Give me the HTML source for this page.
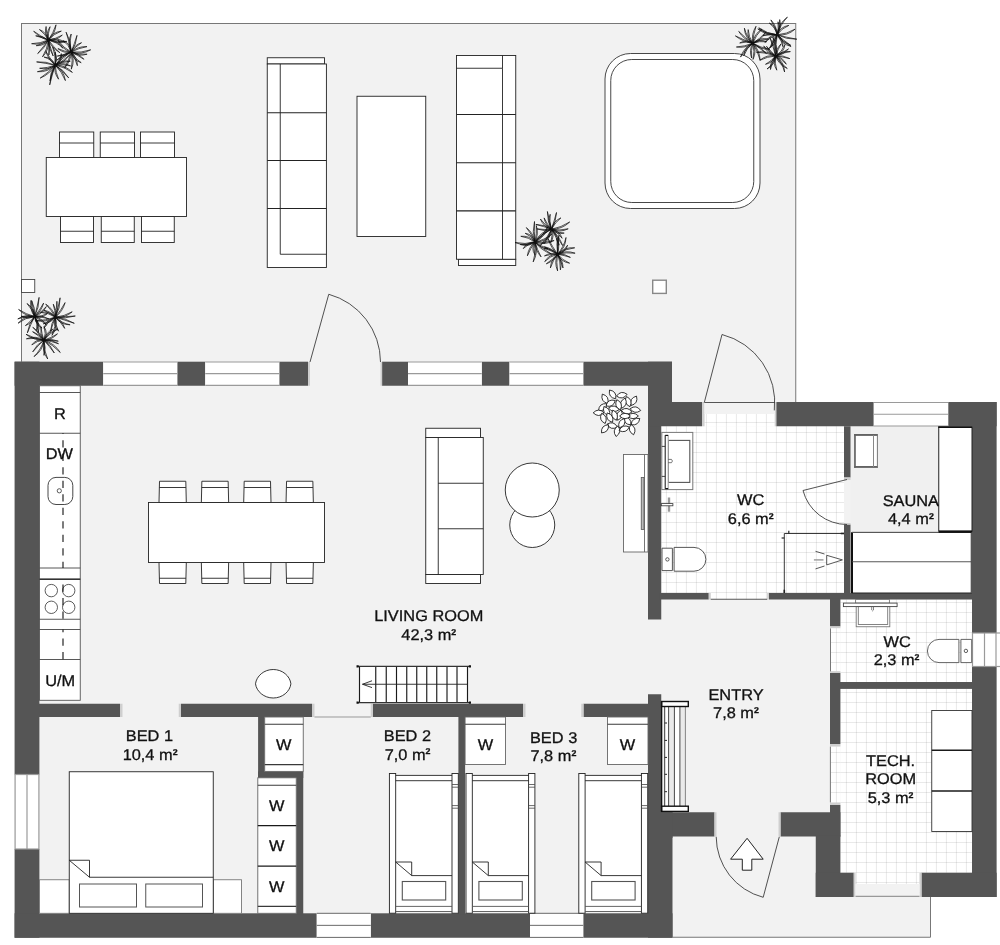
<!DOCTYPE html>
<html><head><meta charset="utf-8"><title>Floor plan</title>
<style>
html,body{margin:0;padding:0;background:#fff;}
body{width:1000px;height:945px;overflow:hidden;font-family:"Liberation Sans",sans-serif;}
svg{display:block;}
</style></head><body>
<svg width="1000" height="945" viewBox="0 0 1000 945">
<rect width="1000" height="945" fill="#fff"/>
<rect x="21.50" y="23.50" width="774.25" height="386.50" fill="#f2f2f2" stroke="#777" stroke-width="1" />
<path d="M14.6,361.7 H672 V402 H996.6 V897 H815.75 V836.5 H672.5 V937.75 H14.6 Z" fill="#f2f2f2" stroke="none" stroke-width="1" />
<path d="M672.5,835 H815.75 V896 H930.5 V937.25 H672.5 Z" fill="#f2f2f2" stroke="none" stroke-width="1" />
<path d="M930.5,897 V937.25 H672.5" fill="none" stroke="#777" stroke-width="1" />
<defs><pattern id="tile" x="5.9" y="2.0" width="10" height="10" patternUnits="userSpaceOnUse"><rect width="10" height="10" fill="#fff"/><rect width="1" height="10" fill="#000" fill-opacity="0.085"/><rect width="10" height="1" fill="#000" fill-opacity="0.085"/></pattern></defs>
<rect x="661.25" y="426.25" width="182.75" height="166.75" fill="url(#tile)" stroke="none" stroke-width="1" />
<rect x="704.50" y="402.00" width="70.25" height="24.25" fill="url(#tile)" stroke="none" stroke-width="1" />
<rect x="710.70" y="593.00" width="56.50" height="6.50" fill="url(#tile)" stroke="none" stroke-width="1" />
<rect x="840.40" y="599.50" width="131.60" height="82.50" fill="url(#tile)" stroke="none" stroke-width="1" />
<rect x="830.00" y="628.00" width="10.40" height="43.50" fill="url(#tile)" stroke="none" stroke-width="1" />
<rect x="840.40" y="688.90" width="131.60" height="183.85" fill="url(#tile)" stroke="none" stroke-width="1" />
<rect x="830.00" y="746.50" width="10.40" height="56.25" fill="url(#tile)" stroke="none" stroke-width="1" />
<rect x="855.50" y="872.75" width="64.00" height="24.25" fill="url(#tile)" stroke="none" stroke-width="1" />
<rect x="850.50" y="426.25" width="121.50" height="166.75" fill="#f0f0f0" stroke="none" stroke-width="1" />
<rect x="14.60" y="361.70" width="88.65" height="24.05" fill="#555555" stroke="none" stroke-width="1" />
<rect x="177.25" y="361.70" width="28.00" height="24.05" fill="#555555" stroke="none" stroke-width="1" />
<rect x="279.25" y="361.70" width="28.75" height="24.05" fill="#555555" stroke="none" stroke-width="1" />
<rect x="382.00" y="361.70" width="26.00" height="24.05" fill="#555555" stroke="none" stroke-width="1" />
<rect x="481.75" y="361.70" width="27.75" height="24.05" fill="#555555" stroke="none" stroke-width="1" />
<rect x="583.25" y="361.70" width="88.75" height="24.05" fill="#555555" stroke="none" stroke-width="1" />
<rect x="14.60" y="361.70" width="24.80" height="412.80" fill="#555555" stroke="none" stroke-width="1" />
<rect x="14.60" y="849.00" width="24.80" height="88.75" fill="#555555" stroke="none" stroke-width="1" />
<rect x="14.60" y="913.30" width="302.15" height="24.45" fill="#555555" stroke="none" stroke-width="1" />
<rect x="370.75" y="913.30" width="159.25" height="24.45" fill="#555555" stroke="none" stroke-width="1" />
<rect x="583.25" y="913.30" width="89.25" height="24.45" fill="#555555" stroke="none" stroke-width="1" />
<rect x="648.00" y="361.70" width="24.00" height="40.30" fill="#555555" stroke="none" stroke-width="1" />
<rect x="648.00" y="402.00" width="13.25" height="217.50" fill="#555555" stroke="none" stroke-width="1" />
<rect x="648.00" y="694.25" width="13.25" height="119.25" fill="#555555" stroke="none" stroke-width="1" />
<rect x="648.00" y="812.25" width="24.50" height="125.50" fill="#555555" stroke="none" stroke-width="1" />
<rect x="648.00" y="402.00" width="54.00" height="24.25" fill="#555555" stroke="none" stroke-width="1" />
<rect x="776.25" y="402.00" width="97.50" height="24.25" fill="#555555" stroke="none" stroke-width="1" />
<rect x="948.25" y="402.00" width="48.35" height="24.25" fill="#555555" stroke="none" stroke-width="1" />
<rect x="972.00" y="402.00" width="24.60" height="231.00" fill="#555555" stroke="none" stroke-width="1" />
<rect x="972.00" y="666.25" width="24.60" height="230.75" fill="#555555" stroke="none" stroke-width="1" />
<rect x="844.00" y="426.25" width="6.50" height="51.25" fill="#555555" stroke="none" stroke-width="1" />
<rect x="844.00" y="524.50" width="6.50" height="68.50" fill="#555555" stroke="none" stroke-width="1" />
<rect x="659.50" y="593.00" width="49.25" height="6.50" fill="#555555" stroke="none" stroke-width="1" />
<rect x="769.00" y="593.00" width="203.00" height="6.50" fill="#555555" stroke="none" stroke-width="1" />
<rect x="830.00" y="598.50" width="10.40" height="27.90" fill="#555555" stroke="none" stroke-width="1" />
<rect x="830.00" y="673.00" width="10.40" height="71.00" fill="#555555" stroke="none" stroke-width="1" />
<rect x="830.00" y="805.00" width="10.40" height="31.50" fill="#555555" stroke="none" stroke-width="1" />
<rect x="840.00" y="682.00" width="132.00" height="6.90" fill="#555555" stroke="none" stroke-width="1" />
<rect x="648.00" y="812.25" width="66.50" height="24.25" fill="#555555" stroke="none" stroke-width="1" />
<rect x="780.50" y="812.25" width="59.90" height="24.25" fill="#555555" stroke="none" stroke-width="1" />
<rect x="648.00" y="812.25" width="24.50" height="25.75" fill="#555555" stroke="none" stroke-width="1" />
<rect x="815.75" y="835.50" width="24.65" height="61.50" fill="#555555" stroke="none" stroke-width="1" />
<rect x="815.75" y="872.75" width="38.00" height="24.25" fill="#555555" stroke="none" stroke-width="1" />
<rect x="921.50" y="872.75" width="75.10" height="24.25" fill="#555555" stroke="none" stroke-width="1" />
<rect x="38.00" y="703.75" width="82.00" height="13.25" fill="#555555" stroke="none" stroke-width="1" />
<rect x="181.00" y="703.75" width="131.00" height="13.25" fill="#555555" stroke="none" stroke-width="1" />
<rect x="373.00" y="703.75" width="150.00" height="13.25" fill="#555555" stroke="none" stroke-width="1" />
<rect x="583.50" y="703.75" width="65.50" height="13.25" fill="#555555" stroke="none" stroke-width="1" />
<rect x="258.10" y="716.00" width="6.60" height="62.00" fill="#555555" stroke="none" stroke-width="1" />
<rect x="258.10" y="771.40" width="45.15" height="6.60" fill="#555555" stroke="none" stroke-width="1" />
<rect x="296.25" y="771.40" width="7.00" height="143.10" fill="#555555" stroke="none" stroke-width="1" />
<rect x="458.40" y="716.00" width="6.70" height="198.50" fill="#555555" stroke="none" stroke-width="1" />
<rect x="308.00" y="362.00" width="2.00" height="23.75" fill="#cfcfcf" stroke="none" stroke-width="1" />
<rect x="380.50" y="362.00" width="1.70" height="23.75" fill="#cfcfcf" stroke="none" stroke-width="1" />
<rect x="702.00" y="402.00" width="2.50" height="24.25" fill="#cfcfcf" stroke="none" stroke-width="1" />
<rect x="774.75" y="402.00" width="1.50" height="24.25" fill="#cfcfcf" stroke="none" stroke-width="1" />
<rect x="844.00" y="477.50" width="6.50" height="2.50" fill="#cfcfcf" stroke="none" stroke-width="1" />
<rect x="844.00" y="523.00" width="6.50" height="1.50" fill="#cfcfcf" stroke="none" stroke-width="1" />
<rect x="708.75" y="593.00" width="1.95" height="6.50" fill="#cfcfcf" stroke="none" stroke-width="1" />
<rect x="767.20" y="593.00" width="1.80" height="6.50" fill="#cfcfcf" stroke="none" stroke-width="1" />
<rect x="830.00" y="626.40" width="10.40" height="1.80" fill="#cfcfcf" stroke="none" stroke-width="1" />
<rect x="830.00" y="671.20" width="10.40" height="1.80" fill="#cfcfcf" stroke="none" stroke-width="1" />
<rect x="830.00" y="744.00" width="10.40" height="2.50" fill="#cfcfcf" stroke="none" stroke-width="1" />
<rect x="830.00" y="802.75" width="10.40" height="2.25" fill="#cfcfcf" stroke="none" stroke-width="1" />
<rect x="714.50" y="812.25" width="2.00" height="24.25" fill="#cfcfcf" stroke="none" stroke-width="1" />
<rect x="778.50" y="812.25" width="2.00" height="24.25" fill="#cfcfcf" stroke="none" stroke-width="1" />
<rect x="853.75" y="872.75" width="1.75" height="24.25" fill="#cfcfcf" stroke="none" stroke-width="1" />
<rect x="919.50" y="872.75" width="2.00" height="24.25" fill="#cfcfcf" stroke="none" stroke-width="1" />
<rect x="120.00" y="703.75" width="2.50" height="13.25" fill="#cfcfcf" stroke="none" stroke-width="1" />
<rect x="178.75" y="703.75" width="2.25" height="13.25" fill="#cfcfcf" stroke="none" stroke-width="1" />
<rect x="312.00" y="703.75" width="2.50" height="13.25" fill="#cfcfcf" stroke="none" stroke-width="1" />
<rect x="370.75" y="703.75" width="2.25" height="13.25" fill="#cfcfcf" stroke="none" stroke-width="1" />
<rect x="523.00" y="703.75" width="2.50" height="13.25" fill="#cfcfcf" stroke="none" stroke-width="1" />
<rect x="581.25" y="703.75" width="2.25" height="13.25" fill="#cfcfcf" stroke="none" stroke-width="1" />
<line x1="314.50" y1="717.00" x2="370.75" y2="717.00" stroke="#999" stroke-width="1" />
<line x1="710.70" y1="599.20" x2="767.20" y2="599.20" stroke="#555" stroke-width="1.1" />
<rect x="855.50" y="884.00" width="64.00" height="13.00" fill="#f2f2f2" stroke="none" stroke-width="1" />
<line x1="855.50" y1="896.40" x2="919.50" y2="896.40" stroke="#999" stroke-width="1.4" />
<rect x="704.50" y="402.00" width="70.25" height="12.00" fill="#f2f2f2" stroke="none" stroke-width="1" />
<line x1="704.50" y1="402.50" x2="774.75" y2="402.50" stroke="#555" stroke-width="1.2" />
<line x1="830.50" y1="628.40" x2="830.50" y2="671.40" stroke="#777" stroke-width="1" />
<line x1="830.40" y1="746.60" x2="830.40" y2="802.40" stroke="#777" stroke-width="1" />
<rect x="103.25" y="362.00" width="74.00" height="23.40" fill="#fff" stroke="none" stroke-width="1" />
<line x1="103.25" y1="362.00" x2="177.25" y2="362.00" stroke="#9a9a9a" stroke-width="1.2" />
<line x1="103.25" y1="373.70" x2="177.25" y2="373.70" stroke="#9a9a9a" stroke-width="1.2" />
<line x1="103.25" y1="385.40" x2="177.25" y2="385.40" stroke="#9a9a9a" stroke-width="1.2" />
<rect x="205.25" y="362.00" width="74.00" height="23.40" fill="#fff" stroke="none" stroke-width="1" />
<line x1="205.25" y1="362.00" x2="279.25" y2="362.00" stroke="#9a9a9a" stroke-width="1.2" />
<line x1="205.25" y1="373.70" x2="279.25" y2="373.70" stroke="#9a9a9a" stroke-width="1.2" />
<line x1="205.25" y1="385.40" x2="279.25" y2="385.40" stroke="#9a9a9a" stroke-width="1.2" />
<rect x="408.00" y="362.00" width="73.75" height="23.40" fill="#fff" stroke="none" stroke-width="1" />
<line x1="408.00" y1="362.00" x2="481.75" y2="362.00" stroke="#9a9a9a" stroke-width="1.2" />
<line x1="408.00" y1="373.70" x2="481.75" y2="373.70" stroke="#9a9a9a" stroke-width="1.2" />
<line x1="408.00" y1="385.40" x2="481.75" y2="385.40" stroke="#9a9a9a" stroke-width="1.2" />
<rect x="509.50" y="362.00" width="73.75" height="23.40" fill="#fff" stroke="none" stroke-width="1" />
<line x1="509.50" y1="362.00" x2="583.25" y2="362.00" stroke="#9a9a9a" stroke-width="1.2" />
<line x1="509.50" y1="373.70" x2="583.25" y2="373.70" stroke="#9a9a9a" stroke-width="1.2" />
<line x1="509.50" y1="385.40" x2="583.25" y2="385.40" stroke="#9a9a9a" stroke-width="1.2" />
<rect x="873.75" y="402.50" width="74.35" height="23.50" fill="#fff" stroke="none" stroke-width="1" />
<line x1="873.75" y1="402.50" x2="948.10" y2="402.50" stroke="#9a9a9a" stroke-width="1.2" />
<line x1="873.75" y1="414.25" x2="948.10" y2="414.25" stroke="#9a9a9a" stroke-width="1.2" />
<line x1="873.75" y1="426.00" x2="948.10" y2="426.00" stroke="#9a9a9a" stroke-width="1.2" />
<rect x="316.75" y="913.30" width="54.00" height="24.10" fill="#fff" stroke="none" stroke-width="1" />
<line x1="316.75" y1="913.30" x2="370.75" y2="913.30" stroke="#6a6a6a" stroke-width="1.0" />
<line x1="316.75" y1="925.35" x2="370.75" y2="925.35" stroke="#6a6a6a" stroke-width="1.0" />
<line x1="316.75" y1="937.40" x2="370.75" y2="937.40" stroke="#6a6a6a" stroke-width="1.0" />
<rect x="530.00" y="913.30" width="53.25" height="24.10" fill="#fff" stroke="none" stroke-width="1" />
<line x1="530.00" y1="913.30" x2="583.25" y2="913.30" stroke="#6a6a6a" stroke-width="1.0" />
<line x1="530.00" y1="925.35" x2="583.25" y2="925.35" stroke="#6a6a6a" stroke-width="1.0" />
<line x1="530.00" y1="937.40" x2="583.25" y2="937.40" stroke="#6a6a6a" stroke-width="1.0" />
<rect x="15.10" y="774.50" width="23.80" height="74.50" fill="#fff" stroke="#9a9a9a" stroke-width="1.2" />
<line x1="27.00" y1="774.50" x2="27.00" y2="849.00" stroke="#9a9a9a" stroke-width="1.2" />
<rect x="972.50" y="633.00" width="28.50" height="33.50" fill="#fff" stroke="#9a9a9a" stroke-width="1.2" />
<line x1="984.50" y1="633.00" x2="984.50" y2="666.50" stroke="#9a9a9a" stroke-width="1.2" />
<line x1="996.00" y1="633.00" x2="996.00" y2="666.50" stroke="#9a9a9a" stroke-width="1.2" />
<path d="M310.00,362.00 L328.75,294.25 A70.40,70.40 0 0 1 380.50,362.00" fill="none" stroke="#333" stroke-width="0.85" />
<path d="M704.30,402.50 L722.00,334.50 A70.20,70.20 0 0 1 774.30,410.40" fill="none" stroke="#333" stroke-width="0.85" />
<path d="M847.00,479.50 L803.00,490.50 A45.50,45.50 0 0 0 847.00,524.50" fill="none" stroke="#333" stroke-width="0.85" />
<path d="M779.30,836.80 L763.20,897.30 A62.80,62.80 0 0 1 716.20,836.80" fill="none" stroke="#333" stroke-width="0.85" />
<rect x="21.50" y="279.50" width="13.25" height="13.00" fill="#fff" stroke="#444" stroke-width="0.9" />
<rect x="652.70" y="280.20" width="13.60" height="13.20" fill="#fff" stroke="#888" stroke-width="1.4" />
<rect x="59.50" y="132.00" width="34.25" height="25.50" fill="#fff" stroke="#222" stroke-width="0.9" />
<line x1="59.50" y1="143.00" x2="93.75" y2="143.00" stroke="#222" stroke-width="0.9" />
<rect x="60.50" y="216.50" width="33.00" height="26.00" fill="#fff" stroke="#222" stroke-width="0.9" />
<line x1="60.50" y1="231.25" x2="93.50" y2="231.25" stroke="#222" stroke-width="0.9" />
<rect x="100.25" y="132.00" width="34.25" height="25.50" fill="#fff" stroke="#222" stroke-width="0.9" />
<line x1="100.25" y1="143.00" x2="134.50" y2="143.00" stroke="#222" stroke-width="0.9" />
<rect x="101.25" y="216.50" width="33.00" height="26.00" fill="#fff" stroke="#222" stroke-width="0.9" />
<line x1="101.25" y1="231.25" x2="134.25" y2="231.25" stroke="#222" stroke-width="0.9" />
<rect x="140.50" y="132.00" width="34.00" height="25.50" fill="#fff" stroke="#222" stroke-width="0.9" />
<line x1="140.50" y1="143.00" x2="174.50" y2="143.00" stroke="#222" stroke-width="0.9" />
<rect x="141.50" y="216.50" width="32.75" height="26.00" fill="#fff" stroke="#222" stroke-width="0.9" />
<line x1="141.50" y1="231.25" x2="174.25" y2="231.25" stroke="#222" stroke-width="0.9" />
<rect x="46.25" y="157.50" width="140.25" height="59.00" fill="#fff" stroke="#222" stroke-width="0.9" />
<rect x="267.25" y="57.75" width="57.25" height="6.25" fill="#fff" stroke="#222" stroke-width="0.9" />
<rect x="267.25" y="64.00" width="59.15" height="203.50" fill="#fff" stroke="#222" stroke-width="0.9" />
<path d="M280.25,64 V254.25 H326.4" fill="none" stroke="#222" stroke-width="0.9" />
<line x1="267.25" y1="112.75" x2="326.40" y2="112.75" stroke="#222" stroke-width="1.1" />
<line x1="267.25" y1="160.50" x2="326.40" y2="160.50" stroke="#222" stroke-width="1.1" />
<line x1="267.25" y1="208.50" x2="326.40" y2="208.50" stroke="#222" stroke-width="1.1" />
<rect x="357.00" y="96.25" width="68.75" height="140.25" fill="#fff" stroke="#222" stroke-width="0.9" />
<rect x="458.50" y="259.25" width="57.25" height="6.25" fill="#fff" stroke="#222" stroke-width="0.9" />
<rect x="456.50" y="55.50" width="59.25" height="203.75" fill="#fff" stroke="#222" stroke-width="0.9" />
<path d="M456.5,68.25 H502.5 V259.25" fill="none" stroke="#222" stroke-width="0.9" />
<line x1="502.50" y1="55.50" x2="502.50" y2="68.25" stroke="#222" stroke-width="0.9" />
<line x1="456.50" y1="114.50" x2="515.75" y2="114.50" stroke="#222" stroke-width="1.1" />
<line x1="456.50" y1="162.75" x2="515.75" y2="162.75" stroke="#222" stroke-width="1.1" />
<line x1="456.50" y1="210.90" x2="515.75" y2="210.90" stroke="#222" stroke-width="1.1" />
<rect x="605.00" y="53.50" width="155.00" height="155.00" fill="#fff" stroke="#333" stroke-width="0.9" rx="25.5" ry="25.5"/>
<rect x="610.75" y="59.50" width="143.00" height="143.00" fill="#fff" stroke="#333" stroke-width="0.9" rx="21" ry="21"/>
<rect x="39.50" y="385.75" width="40.75" height="314.55" fill="#fff" stroke="#555" stroke-width="0.9" />
<line x1="39.50" y1="392.50" x2="80.25" y2="392.50" stroke="#444" stroke-width="0.9" />
<line x1="39.50" y1="433.25" x2="80.25" y2="433.25" stroke="#444" stroke-width="0.9" />
<line x1="39.50" y1="568.00" x2="80.25" y2="568.00" stroke="#444" stroke-width="0.9" />
<line x1="39.50" y1="579.25" x2="80.25" y2="579.25" stroke="#444" stroke-width="0.9" />
<line x1="39.50" y1="619.25" x2="80.25" y2="619.25" stroke="#444" stroke-width="0.9" />
<line x1="39.50" y1="629.50" x2="80.25" y2="629.50" stroke="#444" stroke-width="0.9" />
<line x1="39.50" y1="659.50" x2="80.25" y2="659.50" stroke="#444" stroke-width="0.9" />
<rect x="48.00" y="477.40" width="24.80" height="27.10" fill="none" stroke="#333" stroke-width="0.9" rx="8" ry="8"/>
<circle cx="59.30" cy="490.80" r="2.10" fill="#fff" stroke="#333" stroke-width="0.8"/>
<circle cx="51.30" cy="590.60" r="6.20" fill="none" stroke="#333" stroke-width="0.8"/>
<circle cx="51.30" cy="607.30" r="6.20" fill="none" stroke="#333" stroke-width="0.8"/>
<circle cx="68.70" cy="590.60" r="6.20" fill="none" stroke="#333" stroke-width="0.8"/>
<circle cx="68.70" cy="607.30" r="6.20" fill="none" stroke="#333" stroke-width="0.8"/>
<line x1="39.50" y1="579.20" x2="80.25" y2="579.20" stroke="#333" stroke-width="1.6" />
<path d="M159.50,481.25 H185.80 L186.30,502.5 H159.00 Z" fill="#fff" stroke="#222" stroke-width="0.9" />
<line x1="159.40" y1="487.50" x2="185.90" y2="487.50" stroke="#222" stroke-width="0.9" />
<path d="M159.00,562.5 H186.30 L185.80,583.5 H159.50 Z" fill="#fff" stroke="#222" stroke-width="0.9" />
<line x1="159.40" y1="578.25" x2="185.90" y2="578.25" stroke="#222" stroke-width="0.9" />
<path d="M201.85,481.25 H228.15 L228.65,502.5 H201.35 Z" fill="#fff" stroke="#222" stroke-width="0.9" />
<line x1="201.75" y1="487.50" x2="228.25" y2="487.50" stroke="#222" stroke-width="0.9" />
<path d="M201.35,562.5 H228.65 L228.15,583.5 H201.85 Z" fill="#fff" stroke="#222" stroke-width="0.9" />
<line x1="201.75" y1="578.25" x2="228.25" y2="578.25" stroke="#222" stroke-width="0.9" />
<path d="M244.20,481.25 H270.50 L271.00,502.5 H243.70 Z" fill="#fff" stroke="#222" stroke-width="0.9" />
<line x1="244.10" y1="487.50" x2="270.60" y2="487.50" stroke="#222" stroke-width="0.9" />
<path d="M243.70,562.5 H271.00 L270.50,583.5 H244.20 Z" fill="#fff" stroke="#222" stroke-width="0.9" />
<line x1="244.10" y1="578.25" x2="270.60" y2="578.25" stroke="#222" stroke-width="0.9" />
<path d="M286.55,481.25 H312.85 L313.35,502.5 H286.05 Z" fill="#fff" stroke="#222" stroke-width="0.9" />
<line x1="286.45" y1="487.50" x2="312.95" y2="487.50" stroke="#222" stroke-width="0.9" />
<path d="M286.05,562.5 H313.35 L312.85,583.5 H286.55 Z" fill="#fff" stroke="#222" stroke-width="0.9" />
<line x1="286.45" y1="578.25" x2="312.95" y2="578.25" stroke="#222" stroke-width="0.9" />
<rect x="148.50" y="502.50" width="176.00" height="60.00" fill="#fff" stroke="#222" stroke-width="0.9" />
<rect x="425.75" y="428.25" width="54.75" height="9.25" fill="#fff" stroke="#222" stroke-width="0.9" />
<rect x="425.75" y="574.50" width="54.75" height="9.00" fill="#fff" stroke="#222" stroke-width="0.9" />
<rect x="425.75" y="437.50" width="57.50" height="137.00" fill="#fff" stroke="#222" stroke-width="0.9" />
<line x1="438.25" y1="437.50" x2="438.25" y2="574.50" stroke="#222" stroke-width="0.9" />
<line x1="438.25" y1="483.25" x2="483.25" y2="483.25" stroke="#222" stroke-width="0.9" />
<line x1="438.25" y1="528.75" x2="483.25" y2="528.75" stroke="#222" stroke-width="0.9" />
<circle cx="532.25" cy="525.00" r="22.50" fill="#fff" stroke="#222" stroke-width="0.9"/>
<circle cx="532.25" cy="490.00" r="27.00" fill="#fff" stroke="#222" stroke-width="0.9"/>
<rect x="623.50" y="454.50" width="24.50" height="97.50" fill="#fff" stroke="#666" stroke-width="0.9" />
<line x1="644.50" y1="454.50" x2="644.50" y2="552.00" stroke="#666" stroke-width="0.9" />
<rect x="641.25" y="477.50" width="2.75" height="52.00" fill="#bbb" stroke="#555" stroke-width="0.8" />
<path d="M255.5,683.8 C256.5,676 264,669.5 273.2,669.5 C282.5,669.5 290,676 290.9,683.8 C290,691.5 282.5,698 273.2,698 C264,698 256.5,691.5 255.5,683.8 Z" fill="#fff" stroke="#222" stroke-width="0.9" />
<rect x="359.50" y="667.00" width="108.00" height="35.00" fill="#fff" stroke="none" stroke-width="1" />
<line x1="359.50" y1="666.50" x2="359.50" y2="702.50" stroke="#1a1a1a" stroke-width="1.15" />
<line x1="375.75" y1="666.50" x2="375.75" y2="702.50" stroke="#1a1a1a" stroke-width="1.15" />
<line x1="386.25" y1="666.50" x2="386.25" y2="702.50" stroke="#1a1a1a" stroke-width="1.15" />
<line x1="396.50" y1="666.50" x2="396.50" y2="702.50" stroke="#1a1a1a" stroke-width="1.15" />
<line x1="406.75" y1="666.50" x2="406.75" y2="702.50" stroke="#1a1a1a" stroke-width="1.15" />
<line x1="416.75" y1="666.50" x2="416.75" y2="702.50" stroke="#1a1a1a" stroke-width="1.15" />
<line x1="426.75" y1="666.50" x2="426.75" y2="702.50" stroke="#1a1a1a" stroke-width="1.15" />
<line x1="436.75" y1="666.50" x2="436.75" y2="702.50" stroke="#1a1a1a" stroke-width="1.15" />
<line x1="447.00" y1="666.50" x2="447.00" y2="702.50" stroke="#1a1a1a" stroke-width="1.15" />
<line x1="457.00" y1="666.50" x2="457.00" y2="702.50" stroke="#1a1a1a" stroke-width="1.15" />
<line x1="467.50" y1="666.50" x2="467.50" y2="702.50" stroke="#1a1a1a" stroke-width="1.15" />
<line x1="357.00" y1="666.40" x2="470.50" y2="666.40" stroke="#333" stroke-width="1.4" />
<line x1="357.00" y1="702.60" x2="470.50" y2="702.60" stroke="#333" stroke-width="1.4" />
<rect x="356.50" y="665.30" width="2.20" height="2.20" fill="#111" stroke="none" stroke-width="1" />
<rect x="356.50" y="701.50" width="2.20" height="2.20" fill="#111" stroke="none" stroke-width="1" />
<rect x="468.80" y="665.30" width="2.20" height="2.20" fill="#111" stroke="none" stroke-width="1" />
<rect x="468.80" y="701.50" width="2.20" height="2.20" fill="#111" stroke="none" stroke-width="1" />
<line x1="362.50" y1="684.25" x2="467.50" y2="684.25" stroke="#222" stroke-width="0.9" />
<path d="M372,680.75 L362.5,684.25 L372,687.6" fill="none" stroke="#222" stroke-width="0.9" />
<rect x="39.50" y="879.75" width="29.75" height="33.55" fill="#fff" stroke="#777" stroke-width="0.9" />
<rect x="213.25" y="879.75" width="28.25" height="33.55" fill="#fff" stroke="#777" stroke-width="0.9" />
<rect x="69.25" y="771.75" width="144.00" height="141.55" fill="#fff" stroke="#222" stroke-width="0.9" />
<path d="M69.25,860.25 H89.5 V877.25 H213.25 M69.25,860.25 L89.5,877.25" fill="none" stroke="#222" stroke-width="0.9" />
<rect x="79.50" y="884.00" width="57.00" height="23.00" fill="#fff" stroke="#555" stroke-width="1" />
<rect x="145.75" y="884.00" width="56.75" height="23.00" fill="#fff" stroke="#555" stroke-width="1" />
<rect x="264.70" y="717.00" width="38.55" height="54.40" fill="#fff" stroke="#666" stroke-width="0.9" />
<line x1="264.70" y1="724.30" x2="303.25" y2="724.30" stroke="#3a3a3a" stroke-width="1.1" />
<line x1="264.70" y1="764.60" x2="303.25" y2="764.60" stroke="#3a3a3a" stroke-width="1.1" />
<rect x="257.80" y="777.80" width="38.45" height="135.50" fill="#fff" stroke="#666" stroke-width="0.9" />
<line x1="257.80" y1="785.30" x2="296.25" y2="785.30" stroke="#3a3a3a" stroke-width="1.1" />
<line x1="257.80" y1="906.40" x2="296.25" y2="906.40" stroke="#3a3a3a" stroke-width="1.1" />
<line x1="257.80" y1="825.60" x2="296.25" y2="825.60" stroke="#1a1a1a" stroke-width="1.4" />
<line x1="257.80" y1="866.10" x2="296.25" y2="866.10" stroke="#1a1a1a" stroke-width="1.4" />
<rect x="465.10" y="717.00" width="40.40" height="47.50" fill="#fff" stroke="#666" stroke-width="0.9" />
<line x1="465.10" y1="724.30" x2="505.50" y2="724.30" stroke="#3a3a3a" stroke-width="1.1" />
<rect x="607.50" y="717.00" width="40.50" height="47.50" fill="#fff" stroke="#666" stroke-width="0.9" />
<line x1="607.50" y1="724.30" x2="648.00" y2="724.30" stroke="#3a3a3a" stroke-width="1.1" />
<rect x="395.70" y="775.40" width="56.30" height="136.10" fill="#fff" stroke="none" stroke-width="1" />
<rect x="389.40" y="773.50" width="6.30" height="139.70" fill="#fff" stroke="#222" stroke-width="0.9" />
<rect x="452.00" y="773.50" width="6.30" height="139.70" fill="#fff" stroke="#222" stroke-width="0.9" />
<line x1="395.70" y1="775.40" x2="452.00" y2="775.40" stroke="#222" stroke-width="0.9" />
<line x1="395.70" y1="780.70" x2="452.00" y2="780.70" stroke="#222" stroke-width="0.9" />
<line x1="395.70" y1="906.40" x2="452.00" y2="906.40" stroke="#555" stroke-width="0.9" />
<line x1="395.70" y1="911.50" x2="452.00" y2="911.50" stroke="#555" stroke-width="0.9" />
<line x1="452.00" y1="784.50" x2="458.30" y2="784.50" stroke="#444" stroke-width="0.8" />
<line x1="452.00" y1="787.20" x2="458.30" y2="787.20" stroke="#444" stroke-width="0.8" />
<line x1="452.00" y1="805.60" x2="458.30" y2="805.60" stroke="#444" stroke-width="0.8" />
<line x1="452.00" y1="808.20" x2="458.30" y2="808.20" stroke="#444" stroke-width="0.8" />
<path d="M395.70,862 H411.70 V875.6 H452.00 M395.70,862 L411.70,875.6" fill="none" stroke="#222" stroke-width="0.9" />
<rect x="402.30" y="881.50" width="43.40" height="18.50" fill="#fff" stroke="#555" stroke-width="1.1" />
<rect x="472.30" y="775.40" width="56.30" height="136.10" fill="#fff" stroke="none" stroke-width="1" />
<rect x="466.00" y="773.50" width="6.30" height="139.70" fill="#fff" stroke="#222" stroke-width="0.9" />
<rect x="528.60" y="773.50" width="6.30" height="139.70" fill="#fff" stroke="#222" stroke-width="0.9" />
<line x1="472.30" y1="775.40" x2="528.60" y2="775.40" stroke="#222" stroke-width="0.9" />
<line x1="472.30" y1="780.70" x2="528.60" y2="780.70" stroke="#222" stroke-width="0.9" />
<line x1="472.30" y1="906.40" x2="528.60" y2="906.40" stroke="#555" stroke-width="0.9" />
<line x1="472.30" y1="911.50" x2="528.60" y2="911.50" stroke="#555" stroke-width="0.9" />
<line x1="528.60" y1="784.50" x2="534.90" y2="784.50" stroke="#444" stroke-width="0.8" />
<line x1="528.60" y1="787.20" x2="534.90" y2="787.20" stroke="#444" stroke-width="0.8" />
<line x1="528.60" y1="805.60" x2="534.90" y2="805.60" stroke="#444" stroke-width="0.8" />
<line x1="528.60" y1="808.20" x2="534.90" y2="808.20" stroke="#444" stroke-width="0.8" />
<path d="M472.30,862 H488.30 V875.6 H528.60 M472.30,862 L488.30,875.6" fill="none" stroke="#222" stroke-width="0.9" />
<rect x="478.90" y="881.50" width="43.40" height="18.50" fill="#fff" stroke="#555" stroke-width="1.1" />
<rect x="585.10" y="775.40" width="56.30" height="136.10" fill="#fff" stroke="none" stroke-width="1" />
<rect x="578.80" y="773.50" width="6.30" height="139.70" fill="#fff" stroke="#222" stroke-width="0.9" />
<rect x="641.40" y="773.50" width="6.30" height="139.70" fill="#fff" stroke="#222" stroke-width="0.9" />
<line x1="585.10" y1="775.40" x2="641.40" y2="775.40" stroke="#222" stroke-width="0.9" />
<line x1="585.10" y1="780.70" x2="641.40" y2="780.70" stroke="#222" stroke-width="0.9" />
<line x1="585.10" y1="906.40" x2="641.40" y2="906.40" stroke="#555" stroke-width="0.9" />
<line x1="585.10" y1="911.50" x2="641.40" y2="911.50" stroke="#555" stroke-width="0.9" />
<line x1="641.40" y1="784.50" x2="647.70" y2="784.50" stroke="#444" stroke-width="0.8" />
<line x1="641.40" y1="787.20" x2="647.70" y2="787.20" stroke="#444" stroke-width="0.8" />
<line x1="641.40" y1="805.60" x2="647.70" y2="805.60" stroke="#444" stroke-width="0.8" />
<line x1="641.40" y1="808.20" x2="647.70" y2="808.20" stroke="#444" stroke-width="0.8" />
<path d="M585.10,862 H601.10 V875.6 H641.40 M585.10,862 L601.10,875.6" fill="none" stroke="#222" stroke-width="0.9" />
<rect x="591.70" y="881.50" width="43.40" height="18.50" fill="#fff" stroke="#555" stroke-width="1.1" />
<rect x="664.70" y="706.50" width="20.80" height="99.70" fill="#fff" stroke="none" stroke-width="1" />
<rect x="668.60" y="706.50" width="5.80" height="99.70" fill="#eaeaea" stroke="none" stroke-width="1" />
<rect x="679.90" y="706.50" width="5.50" height="99.70" fill="#eaeaea" stroke="none" stroke-width="1" />
<line x1="664.70" y1="706.50" x2="664.70" y2="806.20" stroke="#222" stroke-width="0.9" />
<line x1="668.60" y1="706.50" x2="668.60" y2="806.20" stroke="#333" stroke-width="0.9" />
<line x1="674.40" y1="706.50" x2="674.40" y2="806.20" stroke="#333" stroke-width="0.9" />
<line x1="679.90" y1="706.50" x2="679.90" y2="806.20" stroke="#333" stroke-width="0.9" />
<line x1="685.40" y1="706.50" x2="685.40" y2="806.20" stroke="#777" stroke-width="0.9" />
<line x1="664.70" y1="723.00" x2="667.00" y2="723.00" stroke="#222" stroke-width="1" />
<line x1="664.70" y1="740.40" x2="667.00" y2="740.40" stroke="#222" stroke-width="1" />
<line x1="664.70" y1="757.40" x2="667.00" y2="757.40" stroke="#222" stroke-width="1" />
<line x1="664.70" y1="774.30" x2="667.00" y2="774.30" stroke="#222" stroke-width="1" />
<line x1="664.70" y1="791.70" x2="667.00" y2="791.70" stroke="#222" stroke-width="1" />
<rect x="661.60" y="701.50" width="26.70" height="5.00" fill="#fff" stroke="#111" stroke-width="1.4" />
<rect x="661.60" y="806.20" width="26.70" height="5.20" fill="#fff" stroke="#111" stroke-width="1.4" />
<line x1="661.60" y1="701.50" x2="661.60" y2="811.40" stroke="#111" stroke-width="1.4" />
<path d="M747.1,838.3 L763.2,859.2 H751.8 V870.2 H742.3 V859.2 H730.6 Z" fill="#fff" stroke="#222" stroke-width="1" />
<rect x="661.80" y="432.40" width="31.00" height="57.20" fill="#fff" stroke="#777" stroke-width="1" />
<rect x="668.20" y="440.40" width="21.60" height="42.00" fill="#fff" stroke="#555" stroke-width="1.1" />
<rect x="665.20" y="435.20" width="3.00" height="53.60" fill="#fff" stroke="none" stroke-width="1" />
<line x1="665.20" y1="435.20" x2="665.20" y2="488.80" stroke="#111" stroke-width="1" />
<line x1="668.20" y1="435.20" x2="668.20" y2="488.80" stroke="#999" stroke-width="1" />
<line x1="665.20" y1="435.40" x2="668.20" y2="435.40" stroke="#111" stroke-width="1.2" />
<line x1="665.20" y1="488.60" x2="668.20" y2="488.60" stroke="#111" stroke-width="1.2" />
<line x1="661.80" y1="446.40" x2="665.20" y2="446.40" stroke="#333" stroke-width="0.9" />
<line x1="661.80" y1="476.40" x2="665.20" y2="476.40" stroke="#333" stroke-width="0.9" />
<path d="M668.2,459.4 H671.5 Q673.4,461 671.5,462.7 H668.2" fill="none" stroke="#555" stroke-width="0.8" />
<rect x="667.80" y="497.50" width="2.40" height="14.20" fill="#999" stroke="none" stroke-width="1" />
<rect x="661.30" y="503.60" width="11.60" height="2.20" fill="#fff" stroke="#333" stroke-width="0.8" />
<path d="M662,548.2 H672.4 V570.6 H662 Z" fill="#fff" stroke="#444" stroke-width="0.9" />
<path d="M674.1,547.4 H694 A11.9,11.9 0 0 1 694,571.2 H674.1 Z" fill="#fff" stroke="#444" stroke-width="0.9" />
<circle cx="667.40" cy="559.40" r="1.70" fill="#fff" stroke="#333" stroke-width="0.8"/>
<path d="M784.3,593 V533.5 H844" fill="none" stroke="#222" stroke-width="0.9" />
<line x1="788.80" y1="530.80" x2="788.80" y2="533.50" stroke="#222" stroke-width="1.2" />
<line x1="781.60" y1="538.00" x2="784.30" y2="538.00" stroke="#222" stroke-width="1.2" />
<line x1="840.80" y1="533.50" x2="844.00" y2="533.50" stroke="#222" stroke-width="1.6" />
<line x1="784.30" y1="589.70" x2="784.30" y2="593.00" stroke="#222" stroke-width="1.6" />
<path d="M826.7,555.3 V564.9 L842.4,559.9 Z" fill="#fff" stroke="#444" stroke-width="0.9" />
<line x1="815.50" y1="551.30" x2="824.50" y2="554.00" stroke="#444" stroke-width="0.9" />
<line x1="815.50" y1="568.90" x2="824.50" y2="566.00" stroke="#444" stroke-width="0.9" />
<line x1="813.90" y1="559.90" x2="823.50" y2="559.90" stroke="#999" stroke-width="1.4" />
<rect x="854.10" y="434.00" width="23.80" height="33.90" fill="#fff" stroke="none" stroke-width="1" />
<rect x="854.10" y="434.00" width="23.80" height="1.90" fill="#636363" stroke="none" stroke-width="1" />
<rect x="854.10" y="466.00" width="23.80" height="1.90" fill="#636363" stroke="none" stroke-width="1" />
<rect x="854.10" y="434.00" width="1.70" height="33.90" fill="#636363" stroke="none" stroke-width="1" />
<line x1="877.40" y1="434.00" x2="877.40" y2="467.90" stroke="#777" stroke-width="1" />
<line x1="873.50" y1="435.00" x2="873.50" y2="467.00" stroke="#888" stroke-width="1" />
<rect x="938.75" y="427.20" width="33.25" height="104.05" fill="#fff" stroke="#222" stroke-width="1" />
<line x1="938.20" y1="427.10" x2="972.00" y2="427.10" stroke="#111" stroke-width="1.8" />
<rect x="852.00" y="532.50" width="119.25" height="60.50" fill="#fff" stroke="#222" stroke-width="1" />
<line x1="852.00" y1="532.50" x2="852.00" y2="593.00" stroke="#111" stroke-width="2" />
<line x1="852.00" y1="532.30" x2="938.75" y2="532.30" stroke="#666" stroke-width="1" />
<line x1="938.75" y1="531.60" x2="972.00" y2="531.60" stroke="#111" stroke-width="2" />
<line x1="852.00" y1="561.75" x2="971.25" y2="561.75" stroke="#444" stroke-width="0.9" />
<rect x="855.60" y="599.50" width="33.80" height="3.60" fill="#fff" stroke="#777" stroke-width="0.9" />
<rect x="856.20" y="606.60" width="33.60" height="20.15" fill="#fff" stroke="#777" stroke-width="0.9" />
<rect x="858.30" y="606.60" width="29.40" height="17.90" fill="#fff" stroke="#777" stroke-width="0.9" />
<rect x="843.40" y="603.10" width="53.70" height="3.50" fill="#fff" stroke="#444" stroke-width="0.9" />
<path d="M871.7,606.6 V610 Q872.6,611.8 873.5,610 V606.6" fill="none" stroke="#666" stroke-width="0.8" />
<path d="M960.9,639.4 H971.7 V662.6 H960.9 Z" fill="#fff" stroke="#555" stroke-width="0.9" />
<path d="M958.9,639.4 H939 A11.6,11.6 0 0 0 939,662.6 H958.9 Z" fill="#fff" stroke="#555" stroke-width="0.9" />
<circle cx="965.90" cy="650.90" r="1.70" fill="#fff" stroke="#333" stroke-width="0.8"/>
<rect x="931.75" y="710.50" width="40.25" height="121.00" fill="#fff" stroke="#333" stroke-width="0.9" />
<line x1="931.75" y1="750.30" x2="972.00" y2="750.30" stroke="#1a1a1a" stroke-width="1.4" />
<line x1="931.75" y1="791.00" x2="972.00" y2="791.00" stroke="#1a1a1a" stroke-width="1.4" />
<path d="M48.4,40.0 Q47.4,49.1 42.5,56.9 Q49.4,49.8 48.4,40.0 M48.4,40.0 Q43.2,47.0 37.7,53.6 Q44.9,48.3 48.4,40.0 M48.4,40.0 Q42.9,44.2 36.2,45.7 Q43.8,46.1 48.4,40.0 M48.4,40.0 Q40.4,43.5 31.6,43.7 Q40.8,45.5 48.4,40.0 M48.4,40.0 Q42.8,35.7 35.7,35.8 Q42.1,37.6 48.4,40.0 M48.4,40.0 Q40.6,36.3 33.7,31.2 Q39.5,38.1 48.4,40.0 M48.4,40.0 Q46.6,32.4 39.4,29.5 Q45.0,33.8 48.4,40.0 M48.4,40.0 Q46.2,33.4 46.1,26.5 Q44.1,33.8 48.4,40.0 M48.4,40.0 Q47.7,33.1 50.1,26.7 Q45.6,32.9 48.4,40.0 M48.4,40.0 Q55.2,33.9 56.0,24.8 Q53.3,33.0 48.4,40.0 M48.4,40.0 Q53.7,33.8 61.3,31.1 Q52.5,32.1 48.4,40.0 M48.4,40.0 Q56.5,40.9 62.3,35.1 Q55.8,38.9 48.4,40.0 M48.4,40.0 Q57.3,44.4 66.8,41.4 Q57.5,42.3 48.4,40.0 M48.4,40.0 Q57.0,39.2 65.1,42.3 Q57.3,37.1 48.4,40.0 M48.4,40.0 Q56.9,41.9 62.9,48.2 Q57.9,40.1 48.4,40.0 M48.4,40.0 Q51.9,48.4 59.9,52.7 Q53.4,47.0 48.4,40.0 M48.4,40.0 Q48.5,48.7 53.2,56.0 Q50.5,48.1 48.4,40.0 M48.4,40.0 Q48.9,47.5 48.9,55.0 Q51.0,47.4 48.4,40.0" fill="none" stroke="#0a0a0a" stroke-width="0.7" stroke-linejoin="round"/>
<circle cx="48.40" cy="40.00" r="1.20" fill="#111" stroke="none" stroke-width="0"/>
<path d="M71.2,52.0 Q71.5,41.4 66.1,32.2 Q69.4,41.9 71.2,52.0 M71.2,52.0 Q68.8,43.0 71.2,34.0 Q66.7,43.0 71.2,52.0 M71.2,52.0 Q76.4,44.5 77.0,35.4 Q74.4,43.8 71.2,52.0 M71.2,52.0 Q75.6,46.5 81.5,42.7 Q74.2,45.0 71.2,52.0 M71.2,52.0 Q78.7,48.1 87.0,46.6 Q78.0,46.1 71.2,52.0 M71.2,52.0 Q81.4,55.2 90.7,49.8 Q81.2,53.1 71.2,52.0 M71.2,52.0 Q78.6,56.9 87.1,54.2 Q78.9,54.9 71.2,52.0 M71.2,52.0 Q77.8,55.2 83.9,59.3 Q78.9,53.3 71.2,52.0 M71.2,52.0 Q73.1,60.3 81.2,62.7 Q74.7,58.8 71.2,52.0 M71.2,52.0 Q75.3,58.4 77.4,65.7 Q77.3,57.5 71.2,52.0 M71.2,52.0 Q73.1,60.6 71.3,69.2 Q75.2,60.6 71.2,52.0 M71.2,52.0 Q68.9,60.6 64.4,68.2 Q70.9,61.4 71.2,52.0 M71.2,52.0 Q61.4,56.0 55.7,64.9 Q62.8,57.6 71.2,52.0 M71.2,52.0 Q62.8,54.0 56.8,60.2 Q63.9,55.9 71.2,52.0 M71.2,52.0 Q64.4,54.5 57.3,56.1 Q65.0,56.5 71.2,52.0 M71.2,52.0 Q64.2,51.7 57.9,48.6 Q63.7,53.7 71.2,52.0 M71.2,52.0 Q63.1,47.8 58.1,40.3 Q61.7,49.4 71.2,52.0 M71.2,52.0 Q70.9,43.6 63.1,40.5 Q69.1,44.9 71.2,52.0" fill="none" stroke="#0a0a0a" stroke-width="0.7" stroke-linejoin="round"/>
<circle cx="71.20" cy="52.00" r="1.20" fill="#111" stroke="none" stroke-width="0"/>
<path d="M55.2,65.2 Q52.4,57.4 44.1,57.1 Q51.1,59.1 55.2,65.2 M55.2,65.2 Q50.1,58.6 45.9,51.4 Q48.4,59.8 55.2,65.2 M55.2,65.2 Q58.1,55.4 52.6,46.8 Q56.0,55.7 55.2,65.2 M55.2,65.2 Q57.8,58.6 55.1,52.1 Q55.7,58.6 55.2,65.2 M55.2,65.2 Q62.3,61.5 61.3,53.6 Q60.5,60.5 55.2,65.2 M55.2,65.2 Q64.6,62.7 70.0,54.5 Q63.4,61.0 55.2,65.2 M55.2,65.2 Q62.4,61.8 70.3,61.2 Q61.8,59.8 55.2,65.2 M55.2,65.2 Q63.0,63.9 70.6,65.9 Q63.1,61.8 55.2,65.2 M55.2,65.2 Q64.6,66.9 72.4,72.4 Q65.4,64.9 55.2,65.2 M55.2,65.2 Q62.4,71.1 68.7,77.9 Q63.8,69.6 55.2,65.2 M55.2,65.2 Q62.0,71.8 65.4,80.6 Q63.8,70.6 55.2,65.2 M55.2,65.2 Q53.7,73.0 58.6,79.2 Q55.7,72.5 55.2,65.2 M55.2,65.2 Q50.1,74.4 49.7,84.9 Q52.1,74.9 55.2,65.2 M55.2,65.2 Q50.0,72.2 50.0,80.8 Q52.0,72.8 55.2,65.2 M55.2,65.2 Q48.6,72.6 40.2,78.1 Q49.9,74.2 55.2,65.2 M55.2,65.2 Q47.0,70.5 37.4,71.7 Q47.7,72.5 55.2,65.2 M55.2,65.2 Q47.7,68.0 39.6,68.3 Q48.1,70.1 55.2,65.2 M55.2,65.2 Q46.3,61.1 36.6,61.9 Q45.9,63.2 55.2,65.2" fill="none" stroke="#0a0a0a" stroke-width="0.7" stroke-linejoin="round"/>
<circle cx="55.20" cy="65.20" r="1.20" fill="#111" stroke="none" stroke-width="0"/>
<path d="M752.8,43.2 Q760.3,39.3 768.7,39.0 Q759.7,37.2 752.8,43.2 M752.8,43.2 Q759.5,40.9 766.6,41.7 Q759.3,38.8 752.8,43.2 M752.8,43.2 Q759.9,49.8 769.7,49.2 Q760.6,47.8 752.8,43.2 M752.8,43.2 Q759.7,48.2 766.4,53.6 Q761.0,46.6 752.8,43.2 M752.8,43.2 Q757.8,51.1 760.1,60.1 Q759.7,50.3 752.8,43.2 M752.8,43.2 Q755.0,51.3 753.0,59.4 Q757.1,51.3 752.8,43.2 M752.8,43.2 Q748.8,50.3 751.6,58.0 Q750.9,50.5 752.8,43.2 M752.8,43.2 Q744.8,46.9 743.8,55.7 Q746.5,48.2 752.8,43.2 M752.8,43.2 Q743.8,47.6 740.5,57.1 Q745.4,49.0 752.8,43.2 M752.8,43.2 Q744.9,46.5 736.4,47.0 Q745.4,48.5 752.8,43.2 M752.8,43.2 Q746.3,39.0 739.7,43.0 Q746.3,41.1 752.8,43.2 M752.8,43.2 Q743.9,40.1 735.4,35.9 Q743.1,42.0 752.8,43.2 M752.8,43.2 Q745.1,38.0 738.7,31.4 Q743.8,39.6 752.8,43.2 M752.8,43.2 Q746.6,36.8 744.4,28.2 Q744.8,37.8 752.8,43.2 M752.8,43.2 Q748.6,37.0 748.2,29.6 Q746.6,37.7 752.8,43.2 M752.8,43.2 Q753.2,34.5 756.0,26.3 Q751.1,34.1 752.8,43.2 M752.8,43.2 Q755.8,35.2 761.9,29.1 Q754.0,34.0 752.8,43.2 M752.8,43.2 Q761.5,40.3 765.7,32.2 Q760.1,38.7 752.8,43.2" fill="none" stroke="#0a0a0a" stroke-width="0.7" stroke-linejoin="round"/>
<circle cx="752.80" cy="43.20" r="1.20" fill="#111" stroke="none" stroke-width="0"/>
<path d="M777.2,34.8 Q772.8,44.6 777.3,54.4 Q774.9,44.6 777.2,34.8 M777.2,34.8 Q771.6,40.1 770.6,47.7 Q773.5,41.0 777.2,34.8 M777.2,34.8 Q774.5,42.7 768.7,48.7 Q776.3,43.8 777.2,34.8 M777.2,34.8 Q768.8,35.2 764.9,42.6 Q770.0,37.0 777.2,34.8 M777.2,34.8 Q770.0,32.5 763.1,35.5 Q770.1,34.6 777.2,34.8 M777.2,34.8 Q766.9,33.7 757.8,28.9 Q766.3,35.7 777.2,34.8 M777.2,34.8 Q767.1,33.7 758.8,27.8 Q766.4,35.6 777.2,34.8 M777.2,34.8 Q777.1,26.3 769.3,23.1 Q775.3,27.5 777.2,34.8 M777.2,34.8 Q776.8,26.2 770.9,19.9 Q774.9,27.0 777.2,34.8 M777.2,34.8 Q780.9,28.5 778.0,21.8 Q778.8,28.4 777.2,34.8 M777.2,34.8 Q781.9,27.7 779.7,19.6 Q779.8,27.4 777.2,34.8 M777.2,34.8 Q780.2,24.7 787.4,17.1 Q778.4,23.7 777.2,34.8 M777.2,34.8 Q781.5,28.3 788.8,25.4 Q780.2,26.7 777.2,34.8 M777.2,34.8 Q787.4,36.1 795.0,29.2 Q786.8,34.1 777.2,34.8 M777.2,34.8 Q786.4,39.6 796.8,39.2 Q786.9,37.5 777.2,34.8 M777.2,34.8 Q782.5,42.0 790.8,45.4 Q783.8,40.4 777.2,34.8 M777.2,34.8 Q781.3,44.0 791.1,46.5 Q782.7,42.4 777.2,34.8 M777.2,34.8 Q781.9,39.8 782.8,46.6 Q783.8,38.9 777.2,34.8" fill="none" stroke="#0a0a0a" stroke-width="0.7" stroke-linejoin="round"/>
<circle cx="777.20" cy="34.80" r="1.20" fill="#111" stroke="none" stroke-width="0"/>
<path d="M775.6,56.0 Q781.7,59.1 786.3,64.2 Q783.0,57.4 775.6,56.0 M775.6,56.0 Q778.7,64.8 787.3,68.5 Q780.3,63.4 775.6,56.0 M775.6,56.0 Q782.2,62.8 784.6,72.0 Q784.1,61.7 775.6,56.0 M775.6,56.0 Q772.4,63.4 776.8,70.2 Q774.5,63.3 775.6,56.0 M775.6,56.0 Q769.8,61.5 770.5,69.5 Q771.8,62.3 775.6,56.0 M775.6,56.0 Q773.4,63.9 767.0,69.0 Q775.2,65.0 775.6,56.0 M775.6,56.0 Q771.4,61.2 765.5,64.3 Q772.8,62.8 775.6,56.0 M775.6,56.0 Q766.7,54.4 759.8,60.3 Q767.3,56.5 775.6,56.0 M775.6,56.0 Q766.7,50.3 756.3,52.2 Q766.3,52.3 775.6,56.0 M775.6,56.0 Q768.9,51.9 763.7,46.0 Q767.6,53.5 775.6,56.0 M775.6,56.0 Q770.9,51.3 766.5,46.3 Q769.4,52.7 775.6,56.0 M775.6,56.0 Q775.2,45.9 769.8,37.3 Q773.2,46.5 775.6,56.0 M775.6,56.0 Q777.8,45.9 772.8,36.9 Q775.8,46.2 775.6,56.0 M775.6,56.0 Q777.8,49.7 781.0,43.9 Q775.9,48.9 775.6,56.0 M775.6,56.0 Q783.9,53.1 785.0,44.4 Q782.2,51.8 775.6,56.0 M775.6,56.0 Q783.4,54.9 788.5,48.9 Q782.4,53.0 775.6,56.0 M775.6,56.0 Q782.7,52.6 790.4,51.6 Q782.1,50.6 775.6,56.0 M775.6,56.0 Q782.8,56.9 789.8,58.6 Q783.1,54.8 775.6,56.0" fill="none" stroke="#0a0a0a" stroke-width="0.7" stroke-linejoin="round"/>
<circle cx="775.60" cy="56.00" r="1.20" fill="#111" stroke="none" stroke-width="0"/>
<path d="M551.5,229.2 Q556.2,221.5 556.5,212.5 Q554.2,220.9 551.5,229.2 M551.5,229.2 Q554.9,222.5 560.9,217.9 Q553.3,221.1 551.5,229.2 M551.5,229.2 Q562.1,229.4 569.7,222.0 Q561.3,227.4 551.5,229.2 M551.5,229.2 Q559.9,233.0 568.2,228.8 Q559.9,230.9 551.5,229.2 M551.5,229.2 Q556.7,235.0 564.2,233.1 Q557.3,233.0 551.5,229.2 M551.5,229.2 Q558.2,232.1 562.1,238.3 Q559.6,230.5 551.5,229.2 M551.5,229.2 Q557.3,237.1 562.6,245.5 Q559.1,236.0 551.5,229.2 M551.5,229.2 Q556.3,236.8 559.1,245.2 Q558.2,235.9 551.5,229.2 M551.5,229.2 Q552.8,235.9 550.8,242.5 Q554.9,236.0 551.5,229.2 M551.5,229.2 Q548.7,237.1 543.8,243.9 Q550.6,238.1 551.5,229.2 M551.5,229.2 Q547.2,238.4 540.0,245.6 Q548.9,239.6 551.5,229.2 M551.5,229.2 Q541.5,231.1 536.3,239.8 Q542.7,232.8 551.5,229.2 M551.5,229.2 Q544.1,229.8 536.8,228.9 Q544.1,231.9 551.5,229.2 M551.5,229.2 Q544.4,224.5 535.8,224.4 Q543.8,226.5 551.5,229.2 M551.5,229.2 Q544.8,225.3 540.4,219.0 Q543.4,226.9 551.5,229.2 M551.5,229.2 Q547.0,224.1 544.1,217.9 Q545.3,225.2 551.5,229.2 M551.5,229.2 Q549.3,220.4 547.4,211.5 Q547.2,220.8 551.5,229.2 M551.5,229.2 Q549.0,221.9 550.2,214.3 Q546.9,222.1 551.5,229.2" fill="none" stroke="#0a0a0a" stroke-width="0.7" stroke-linejoin="round"/>
<circle cx="551.50" cy="229.20" r="1.20" fill="#111" stroke="none" stroke-width="0"/>
<path d="M535.0,242.0 Q533.5,233.1 526.3,227.6 Q531.7,234.1 535.0,242.0 M535.0,242.0 Q533.9,231.8 534.5,221.5 Q531.8,231.8 535.0,242.0 M535.0,242.0 Q539.0,234.0 536.3,225.5 Q536.9,233.9 535.0,242.0 M535.0,242.0 Q545.0,237.2 548.0,226.4 Q543.4,235.8 535.0,242.0 M535.0,242.0 Q542.5,235.5 550.4,229.4 Q541.2,233.8 535.0,242.0 M535.0,242.0 Q545.3,242.1 551.8,234.0 Q544.4,240.2 535.0,242.0 M535.0,242.0 Q544.9,245.6 554.1,240.5 Q544.7,243.5 535.0,242.0 M535.0,242.0 Q540.1,248.2 548.0,248.7 Q541.0,246.3 535.0,242.0 M535.0,242.0 Q541.2,250.5 551.3,253.9 Q542.5,248.8 535.0,242.0 M535.0,242.0 Q535.3,250.6 541.1,256.9 Q537.2,249.8 535.0,242.0 M535.0,242.0 Q530.7,248.5 535.0,254.9 Q532.8,248.5 535.0,242.0 M535.0,242.0 Q536.4,252.2 533.2,261.9 Q538.5,252.3 535.0,242.0 M535.0,242.0 Q528.4,247.4 527.4,255.8 Q530.3,248.4 535.0,242.0 M535.0,242.0 Q527.1,241.8 523.2,248.6 Q528.2,243.6 535.0,242.0 M535.0,242.0 Q527.9,245.4 520.2,244.5 Q528.3,247.4 535.0,242.0 M535.0,242.0 Q525.0,244.7 515.0,242.5 Q525.1,246.8 535.0,242.0 M535.0,242.0 Q529.4,235.3 520.8,236.3 Q528.6,237.3 535.0,242.0 M535.0,242.0 Q533.0,234.3 525.2,233.3 Q531.6,235.9 535.0,242.0" fill="none" stroke="#0a0a0a" stroke-width="0.7" stroke-linejoin="round"/>
<circle cx="535.00" cy="242.00" r="1.20" fill="#111" stroke="none" stroke-width="0"/>
<path d="M557.5,254.2 Q565.3,248.7 574.7,247.8 Q564.5,246.8 557.5,254.2 M557.5,254.2 Q566.2,252.0 575.1,253.2 Q566.1,249.9 557.5,254.2 M557.5,254.2 Q564.1,255.3 570.4,257.4 Q564.6,253.2 557.5,254.2 M557.5,254.2 Q561.1,261.9 569.6,263.2 Q562.4,260.2 557.5,254.2 M557.5,254.2 Q561.1,260.8 563.0,268.0 Q563.0,260.0 557.5,254.2 M557.5,254.2 Q560.6,261.7 560.4,269.9 Q562.7,261.3 557.5,254.2 M557.5,254.2 Q554.0,262.6 557.6,270.9 Q556.1,262.6 557.5,254.2 M557.5,254.2 Q551.0,259.5 550.4,267.9 Q552.9,260.5 557.5,254.2 M557.5,254.2 Q552.5,259.7 546.3,263.8 Q553.9,261.3 557.5,254.2 M557.5,254.2 Q549.0,254.2 544.7,261.6 Q550.1,256.1 557.5,254.2 M557.5,254.2 Q550.6,251.9 544.5,255.9 Q550.9,254.0 557.5,254.2 M557.5,254.2 Q552.1,248.5 544.2,248.4 Q551.2,250.4 557.5,254.2 M557.5,254.2 Q552.2,248.3 544.4,246.8 Q551.2,250.1 557.5,254.2 M557.5,254.2 Q552.6,246.8 548.3,239.1 Q550.8,247.9 557.5,254.2 M557.5,254.2 Q560.3,246.1 556.6,238.4 Q558.2,246.2 557.5,254.2 M557.5,254.2 Q557.8,244.6 559.0,235.2 Q555.7,244.5 557.5,254.2 M557.5,254.2 Q565.8,247.9 566.0,237.5 Q563.9,247.0 557.5,254.2 M557.5,254.2 Q565.6,253.1 567.6,245.2 Q564.2,251.6 557.5,254.2" fill="none" stroke="#0a0a0a" stroke-width="0.7" stroke-linejoin="round"/>
<circle cx="557.50" cy="254.20" r="1.20" fill="#111" stroke="none" stroke-width="0"/>
<path d="M34.6,316.5 Q38.0,323.1 36.7,330.4 Q40.1,322.8 34.6,316.5 M34.6,316.5 Q28.7,323.7 27.4,332.8 Q30.7,324.5 34.6,316.5 M34.6,316.5 Q30.5,321.6 25.4,325.6 Q32.0,323.1 34.6,316.5 M34.6,316.5 Q24.6,315.6 18.1,323.2 Q25.4,317.5 34.6,316.5 M34.6,316.5 Q25.7,313.8 17.8,318.9 Q26.0,315.9 34.6,316.5 M34.6,316.5 Q27.8,317.4 21.1,316.2 Q27.8,319.5 34.6,316.5 M34.6,316.5 Q26.0,314.3 18.6,309.5 Q25.2,316.2 34.6,316.5 M34.6,316.5 Q34.1,308.1 27.0,303.5 Q32.3,309.2 34.6,316.5 M34.6,316.5 Q31.4,308.8 31.0,300.4 Q29.3,309.2 34.6,316.5 M34.6,316.5 Q35.5,308.2 31.7,300.7 Q33.4,308.6 34.6,316.5 M34.6,316.5 Q39.2,307.5 39.1,297.4 Q37.2,307.0 34.6,316.5 M34.6,316.5 Q41.4,311.3 43.6,303.1 Q39.7,310.2 34.6,316.5 M34.6,316.5 Q42.5,313.9 46.4,306.5 Q41.2,312.3 34.6,316.5 M34.6,316.5 Q41.8,319.0 47.3,313.6 Q41.4,316.9 34.6,316.5 M34.6,316.5 Q41.9,316.8 48.9,318.9 Q42.2,314.7 34.6,316.5 M34.6,316.5 Q41.0,320.2 46.5,325.1 Q42.2,318.5 34.6,316.5 M34.6,316.5 Q35.2,324.3 42.0,328.1 Q36.9,323.2 34.6,316.5 M34.6,316.5 Q38.8,324.1 38.2,332.7 Q40.8,323.6 34.6,316.5" fill="none" stroke="#0a0a0a" stroke-width="0.7" stroke-linejoin="round"/>
<circle cx="34.60" cy="316.50" r="1.20" fill="#111" stroke="none" stroke-width="0"/>
<path d="M55.4,317.2 Q60.9,322.1 64.7,328.4 Q62.5,320.7 55.4,317.2 M55.4,317.2 Q52.7,325.2 58.6,331.2 Q54.8,324.7 55.4,317.2 M55.4,317.2 Q56.0,326.7 52.0,335.4 Q58.1,327.1 55.4,317.2 M55.4,317.2 Q50.9,323.2 50.7,330.7 Q52.8,323.9 55.4,317.2 M55.4,317.2 Q46.5,319.4 44.0,328.2 Q48.0,320.9 55.4,317.2 M55.4,317.2 Q49.8,321.2 43.3,323.8 Q50.8,323.0 55.4,317.2 M55.4,317.2 Q45.7,320.5 35.5,320.8 Q46.1,322.6 55.4,317.2 M55.4,317.2 Q49.2,310.7 40.4,312.3 Q48.5,312.7 55.4,317.2 M55.4,317.2 Q51.1,311.4 44.0,310.3 Q50.0,313.2 55.4,317.2 M55.4,317.2 Q53.1,308.8 45.7,304.1 Q51.4,310.0 55.4,317.2 M55.4,317.2 Q57.2,310.3 53.3,304.2 Q55.1,310.6 55.4,317.2 M55.4,317.2 Q58.5,309.4 56.9,301.3 Q56.4,309.3 55.4,317.2 M55.4,317.2 Q60.4,308.2 60.1,297.8 Q58.3,307.7 55.4,317.2 M55.4,317.2 Q62.7,311.5 65.1,302.6 Q60.9,310.4 55.4,317.2 M55.4,317.2 Q65.0,318.3 72.2,311.8 Q64.4,316.3 55.4,317.2 M55.4,317.2 Q65.5,318.9 75.3,316.0 Q65.4,316.8 55.4,317.2 M55.4,317.2 Q64.9,320.1 74.3,323.3 Q65.6,318.1 55.4,317.2 M55.4,317.2 Q60.7,325.0 70.1,324.8 Q61.6,323.1 55.4,317.2" fill="none" stroke="#0a0a0a" stroke-width="0.7" stroke-linejoin="round"/>
<circle cx="55.40" cy="317.20" r="1.20" fill="#111" stroke="none" stroke-width="0"/>
<path d="M43.9,340.2 Q36.4,344.2 32.7,351.9 Q37.9,345.7 43.9,340.2 M43.9,340.2 Q36.3,338.6 31.8,344.9 Q37.1,340.5 43.9,340.2 M43.9,340.2 Q35.5,335.2 26.4,338.8 Q35.3,337.3 43.9,340.2 M43.9,340.2 Q34.5,338.6 26.0,334.3 Q33.8,340.5 43.9,340.2 M43.9,340.2 Q39.7,334.0 32.6,331.7 Q38.4,335.7 43.9,340.2 M43.9,340.2 Q40.3,332.0 32.8,327.2 Q38.7,333.3 43.9,340.2 M43.9,340.2 Q41.7,333.7 40.9,326.8 Q39.6,334.1 43.9,340.2 M43.9,340.2 Q48.6,333.4 44.0,326.5 Q46.5,333.4 43.9,340.2 M43.9,340.2 Q47.5,333.9 52.8,329.1 Q45.8,332.6 43.9,340.2 M43.9,340.2 Q49.7,333.0 58.0,329.0 Q48.4,331.4 43.9,340.2 M43.9,340.2 Q52.0,339.8 57.5,333.8 Q51.2,337.9 43.9,340.2 M43.9,340.2 Q51.1,340.1 58.3,341.2 Q51.3,338.0 43.9,340.2 M43.9,340.2 Q51.4,341.1 58.5,343.7 Q51.9,339.0 43.9,340.2 M43.9,340.2 Q53.1,345.0 60.3,352.5 Q54.4,343.3 43.9,340.2 M43.9,340.2 Q49.4,346.3 54.3,353.0 Q51.0,345.0 43.9,340.2 M43.9,340.2 Q41.4,350.5 47.7,359.0 Q43.5,350.0 43.9,340.2 M43.9,340.2 Q44.2,347.8 44.0,355.4 Q46.3,347.8 43.9,340.2 M43.9,340.2 Q41.0,349.7 34.0,356.6 Q42.8,350.7 43.9,340.2" fill="none" stroke="#0a0a0a" stroke-width="0.7" stroke-linejoin="round"/>
<circle cx="43.90" cy="340.20" r="1.20" fill="#111" stroke="none" stroke-width="0"/>
<path d="M609.5,390.0 Q608.1,397.5 615.7,398.8 Q617.1,391.3 609.5,390.0 Z" fill="#fff" stroke="#111" stroke-width="0.85" />
<path d="M602.3,394.1 Q600.3,401.5 607.7,403.5 Q609.7,396.1 602.3,394.1 Z" fill="#fff" stroke="#111" stroke-width="0.85" />
<path d="M616.5,396.1 Q622.7,400.6 627.1,394.3 Q620.9,389.8 616.5,396.1 Z" fill="#fff" stroke="#111" stroke-width="0.85" />
<path d="M631.1,405.5 Q638.5,403.5 636.5,396.1 Q629.1,398.1 631.1,405.5 Z" fill="#fff" stroke="#111" stroke-width="0.85" />
<path d="M626.4,396.5 Q623.1,403.5 630.0,406.7 Q633.3,399.7 626.4,396.5 Z" fill="#fff" stroke="#111" stroke-width="0.85" />
<path d="M605.9,405.9 Q613.3,407.9 615.3,400.5 Q607.9,398.5 605.9,405.9 Z" fill="#fff" stroke="#111" stroke-width="0.85" />
<path d="M621.6,408.3 Q628.5,405.1 625.2,398.1 Q618.3,401.3 621.6,408.3 Z" fill="#fff" stroke="#111" stroke-width="0.85" />
<path d="M616.8,399.7 Q613.5,406.7 620.4,409.9 Q623.7,402.9 616.8,399.7 Z" fill="#fff" stroke="#111" stroke-width="0.85" />
<path d="M598.5,410.7 Q606.1,411.4 606.7,403.7 Q599.1,403.0 598.5,410.7 Z" fill="#fff" stroke="#111" stroke-width="0.85" />
<path d="M608.5,407.9 Q612.9,414.2 619.1,409.7 Q614.7,403.4 608.5,407.9 Z" fill="#fff" stroke="#111" stroke-width="0.85" />
<path d="M630.1,408.7 Q634.5,415.0 640.7,410.5 Q636.3,404.2 630.1,408.7 Z" fill="#fff" stroke="#111" stroke-width="0.85" />
<path d="M593.2,412.8 Q598.6,418.2 604.0,412.8 Q598.6,407.4 593.2,412.8 Z" fill="#fff" stroke="#111" stroke-width="0.85" />
<path d="M603.9,406.5 Q601.9,413.9 609.3,415.9 Q611.3,408.5 603.9,406.5 Z" fill="#fff" stroke="#111" stroke-width="0.85" />
<path d="M621.3,410.3 Q625.7,416.6 631.9,412.1 Q627.5,405.8 621.3,410.3 Z" fill="#fff" stroke="#111" stroke-width="0.85" />
<path d="M617.6,420.3 Q624.5,417.1 621.2,410.1 Q614.3,413.3 617.6,420.3 Z" fill="#fff" stroke="#111" stroke-width="0.85" />
<path d="M627.6,416.0 Q633.0,421.4 638.4,416.0 Q633.0,410.6 627.6,416.0 Z" fill="#fff" stroke="#111" stroke-width="0.85" />
<path d="M601.6,413.3 Q598.3,420.3 605.2,423.5 Q608.5,416.5 601.6,413.3 Z" fill="#fff" stroke="#111" stroke-width="0.85" />
<path d="M607.1,412.9 Q605.1,420.3 612.5,422.3 Q614.5,414.9 607.1,412.9 Z" fill="#fff" stroke="#111" stroke-width="0.85" />
<path d="M612.8,410.1 Q609.5,417.1 616.4,420.3 Q619.7,413.3 612.8,410.1 Z" fill="#fff" stroke="#111" stroke-width="0.85" />
<path d="M631.0,424.7 Q638.5,426.1 639.8,418.5 Q632.3,417.1 631.0,424.7 Z" fill="#fff" stroke="#111" stroke-width="0.85" />
<path d="M623.9,416.7 Q623.2,424.3 630.9,424.9 Q631.6,417.3 623.9,416.7 Z" fill="#fff" stroke="#111" stroke-width="0.85" />
<path d="M619.1,427.9 Q626.5,425.9 624.5,418.5 Q617.1,420.5 619.1,427.9 Z" fill="#fff" stroke="#111" stroke-width="0.85" />
<path d="M607.0,424.2 Q610.8,430.9 617.4,427.0 Q613.6,420.3 607.0,424.2 Z" fill="#fff" stroke="#111" stroke-width="0.85" />
<path d="M601.5,432.9 Q609.2,432.3 608.5,424.7 Q600.8,425.3 601.5,432.9 Z" fill="#fff" stroke="#111" stroke-width="0.85" />
<path d="M616.1,436.5 Q622.4,432.1 617.9,425.9 Q611.6,430.3 616.1,436.5 Z" fill="#fff" stroke="#111" stroke-width="0.85" />
<path d="M619.1,430.6 Q626.1,433.9 629.3,427.0 Q622.3,423.7 619.1,430.6 Z" fill="#fff" stroke="#111" stroke-width="0.85" />
<path d="M630.8,424.4 Q626.9,431.0 633.6,434.8 Q637.5,428.2 630.8,424.4 Z" fill="#fff" stroke="#111" stroke-width="0.85" />
<path d="M619.6,416.0 Q625.0,421.4 630.4,416.0 Q625.0,410.6 619.6,416.0 Z" fill="#fff" stroke="#111" stroke-width="0.85" />
<g font-family="Liberation Sans, sans-serif" fill="#111" stroke="#111" stroke-width="0.3" opacity="0.999" text-rendering="geometricPrecision">
<text transform="translate(59.90,418.50) scale(1.0551,1)" font-size="15.5" text-anchor="middle">R</text>
<text transform="translate(59.30,458.90) scale(1.0551,1)" font-size="15.5" text-anchor="middle">DW</text>
<text transform="translate(60.20,685.60) scale(1.0551,1)" font-size="15.5" text-anchor="middle">U/M</text>
<text transform="translate(428.75,621.00) scale(1.0551,1)" font-size="15.5" text-anchor="middle">LIVING ROOM</text>
<text transform="translate(428.75,639.80) scale(1.0551,1)" font-size="15.5" text-anchor="middle">42,3 m<tspan dy="-5.3" font-size="8.4" font-weight="bold">2</tspan></text>
<text transform="translate(149.40,741.40) scale(1.0551,1)" font-size="15.5" text-anchor="middle">BED 1</text>
<text transform="translate(150.10,760.00) scale(1.0551,1)" font-size="15.5" text-anchor="middle">10,4 m<tspan dy="-5.3" font-size="8.4" font-weight="bold">2</tspan></text>
<text transform="translate(407.40,740.60) scale(1.0551,1)" font-size="15.5" text-anchor="middle">BED 2</text>
<text transform="translate(407.60,759.50) scale(1.0551,1)" font-size="15.5" text-anchor="middle">7,0 m<tspan dy="-5.3" font-size="8.4" font-weight="bold">2</tspan></text>
<text transform="translate(553.60,742.50) scale(1.0551,1)" font-size="15.5" text-anchor="middle">BED 3</text>
<text transform="translate(553.40,761.30) scale(1.0551,1)" font-size="15.5" text-anchor="middle">7,8 m<tspan dy="-5.3" font-size="8.4" font-weight="bold">2</tspan></text>
<text transform="translate(283.60,749.60) scale(1.0551,1)" font-size="15.5" text-anchor="middle">W</text>
<text transform="translate(276.75,810.50) scale(1.0551,1)" font-size="15.5" text-anchor="middle">W</text>
<text transform="translate(276.75,851.30) scale(1.0551,1)" font-size="15.5" text-anchor="middle">W</text>
<text transform="translate(276.75,891.80) scale(1.0551,1)" font-size="15.5" text-anchor="middle">W</text>
<text transform="translate(485.50,749.60) scale(1.0551,1)" font-size="15.5" text-anchor="middle">W</text>
<text transform="translate(627.50,749.50) scale(1.0551,1)" font-size="15.5" text-anchor="middle">W</text>
<text transform="translate(750.60,505.10) scale(1.0551,1)" font-size="15.5" text-anchor="middle">WC</text>
<text transform="translate(750.70,524.20) scale(1.0551,1)" font-size="15.5" text-anchor="middle">6,6 m<tspan dy="-5.3" font-size="8.4" font-weight="bold">2</tspan></text>
<text transform="translate(910.80,505.70) scale(1.0551,1)" font-size="15.5" text-anchor="middle">SAUNA</text>
<text transform="translate(910.90,524.30) scale(1.0551,1)" font-size="15.5" text-anchor="middle">4,4 m<tspan dy="-5.3" font-size="8.4" font-weight="bold">2</tspan></text>
<text transform="translate(897.10,646.70) scale(1.0551,1)" font-size="15.5" text-anchor="middle">WC</text>
<text transform="translate(896.60,665.20) scale(1.0551,1)" font-size="15.5" text-anchor="middle">2,3 m<tspan dy="-5.3" font-size="8.4" font-weight="bold">2</tspan></text>
<text transform="translate(736.00,699.90) scale(1.0551,1)" font-size="15.5" text-anchor="middle">ENTRY</text>
<text transform="translate(736.00,718.40) scale(1.0551,1)" font-size="15.5" text-anchor="middle">7,8 m<tspan dy="-5.3" font-size="8.4" font-weight="bold">2</tspan></text>
<text transform="translate(890.60,766.00) scale(1.0551,1)" font-size="15.5" text-anchor="middle">TECH.</text>
<text transform="translate(890.60,784.40) scale(1.0551,1)" font-size="15.5" text-anchor="middle">ROOM</text>
<text transform="translate(890.60,803.00) scale(1.0551,1)" font-size="15.5" text-anchor="middle">5,3 m<tspan dy="-5.3" font-size="8.4" font-weight="bold">2</tspan></text>
</g>
<line x1="63.00" y1="433.25" x2="63.00" y2="568.00" stroke="#111" stroke-width="1.1" stroke-dasharray="7.1 6.4" stroke-dashoffset="6.45"/>
<line x1="63.00" y1="579.25" x2="63.00" y2="619.25" stroke="#111" stroke-width="1.1" stroke-dasharray="7.1 6.4" stroke-dashoffset="8.15"/>
<line x1="63.00" y1="629.50" x2="63.00" y2="659.50" stroke="#111" stroke-width="1.1" stroke-dasharray="7.1 6.4" stroke-dashoffset="4.4"/>
</svg>
</body></html>
